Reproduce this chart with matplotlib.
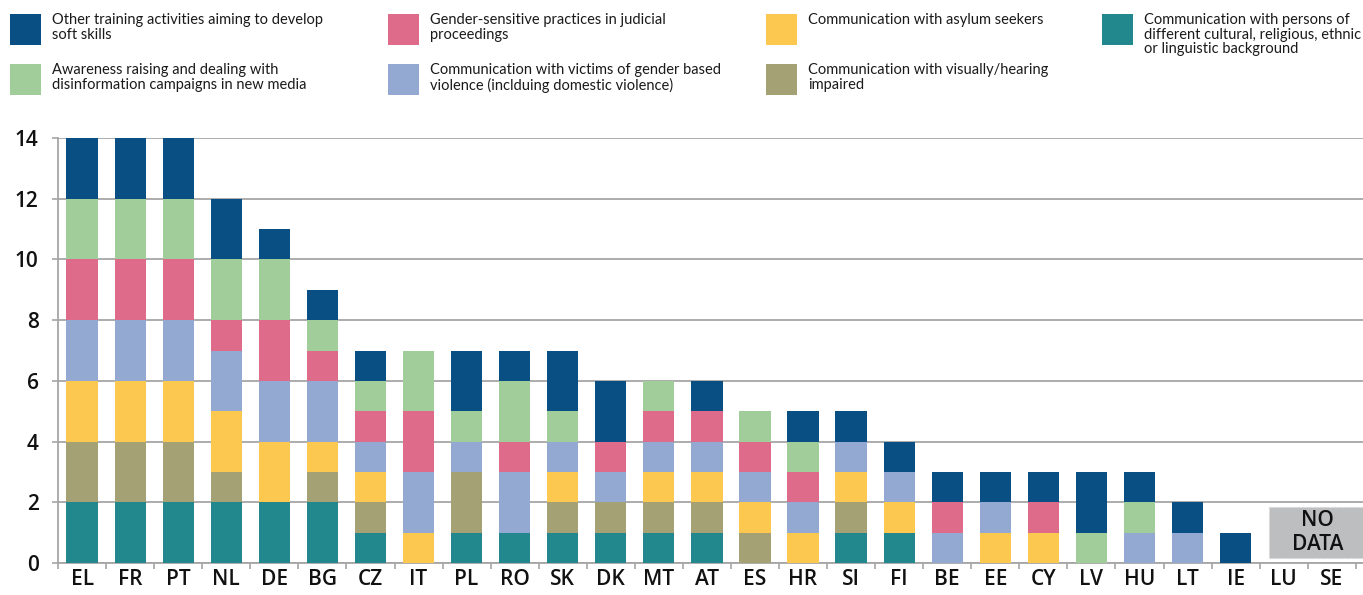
import matplotlib.pyplot as plt
from matplotlib.patches import Rectangle
import numpy as np

countries = ['EL', 'FR', 'PT', 'NL', 'DE', 'BG', 'CZ', 'IT', 'PL', 'RO', 'SK', 'DK', 'MT', 'AT',
             'ES', 'HR', 'SI', 'FI', 'BE', 'EE', 'CY', 'LV', 'HU', 'LT', 'IE', 'LU', 'SE']

# stacked bottom to top
cultural   = [2, 2, 2, 2, 2, 2, 1, 0, 1, 1, 1, 1, 1, 1, 0, 0, 1, 1, 0, 0, 0, 0, 0, 0, 0, 0, 0]
impaired   = [2, 2, 2, 1, 0, 1, 1, 0, 2, 0, 1, 1, 1, 1, 1, 0, 1, 0, 0, 0, 0, 0, 0, 0, 0, 0, 0]
asylum     = [2, 2, 2, 2, 2, 1, 1, 1, 0, 0, 1, 0, 1, 1, 1, 1, 1, 1, 0, 1, 1, 0, 0, 0, 0, 0, 0]
victims    = [2, 2, 2, 2, 2, 2, 1, 2, 1, 2, 1, 1, 1, 1, 1, 1, 1, 1, 1, 1, 0, 0, 1, 1, 0, 0, 0]
gender     = [2, 2, 2, 1, 2, 1, 1, 2, 0, 1, 0, 1, 1, 1, 1, 1, 0, 0, 1, 0, 1, 0, 0, 0, 0, 0, 0]
awareness  = [2, 2, 2, 2, 2, 1, 1, 2, 1, 2, 1, 0, 1, 0, 1, 1, 0, 0, 0, 0, 0, 1, 1, 0, 0, 0, 0]
soft       = [2, 2, 2, 2, 1, 1, 1, 0, 2, 1, 2, 2, 0, 1, 0, 1, 1, 1, 1, 1, 1, 2, 1, 1, 1, 0, 0]

series = [
    (cultural,  '#23888e', 'Communication with persons of\ndifferent cultural, religious, ethnic\nor linguistic background'),
    (impaired,  '#a4a175', 'Communication with visually/hearing\nimpaired'),
    (asylum,    '#fcc84f', 'Communication with asylum seekers'),
    (victims,   '#93a9d2', 'Communication with victims of gender based\nviolence (inclduing domestic violence)'),
    (gender,    '#df6b8a', 'Gender-sensitive practices in judicial\nproceedings'),
    (awareness, '#a1cd9a', 'Awareness raising and dealing with\ndisinformation campaigns in new media'),
    (soft,      '#0a4f84', 'Other training activities aiming to develop\nsoft skills'),
]

fig = plt.figure(figsize=(13.63, 5.95), dpi=100)
ax = fig.add_axes([0.0426, 0.0538, 0.9574, 0.7142])

x = np.arange(len(countries))
bottom = np.zeros(len(countries))
for vals, col, lab in series:
    ax.bar(x, vals, 0.65, bottom=bottom, color=col, zorder=3, clip_on=False)
    bottom += np.array(vals)

grid_col = '#a6a6a6'
ax.set_xlim(-0.5, 26.65)
ax.set_ylim(0, 14)
ax.set_yticks(range(0, 15, 2))
ax.yaxis.grid(True, color=grid_col, linewidth=1.3, zorder=0)
ax.set_axisbelow(True)
for s in ['top', 'right']:
    ax.spines[s].set_visible(False)
for s in ['left', 'bottom']:
    ax.spines[s].set_color(grid_col)
    ax.spines[s].set_linewidth(1.3)

tick_font = dict(family=['Open Sans', 'DejaVu Sans'], weight='semibold', size=15)
ax.set_xticks(x)
ax.set_xticklabels(countries, **tick_font)
ax.set_yticklabels([str(v) for v in range(0, 15, 2)], **tick_font)
ax.tick_params(axis='x', length=0, pad=4, colors='#111111')
ax.set_xticks(np.arange(-0.5, 26.6, 1), minor=True)
ax.tick_params(axis='x', which='minor', length=4, color=grid_col, width=1.2)
ax.tick_params(axis='y', length=4, width=1.2, color=grid_col, pad=10, labelcolor='#111111')

# grey "no data" box over LU and SE
ax.add_patch(Rectangle((24.7, 0.16), 2.0, 1.68, facecolor='#bdbebf', edgecolor='#d9d9d9',
                       linestyle='--', linewidth=0.8, zorder=4, clip_on=False))
ax.text(25.7, 1.0, 'NO\nDATA', ha='center', va='center', zorder=5, linespacing=1.2,
        family=['Open Sans', 'DejaVu Sans'], weight='semibold', size=15, color='#111111')

# legend laid out in four columns, two rows
legend_font = ['Liberation Sans Narrow', 'Lato', 'DejaVu Sans']
order = [6, 4, 2, 0, 5, 3, 1]
col_x = [10, 388, 766, 1102]
row_y = [14, 64]
W, H = 1363, 595
for k, idx in enumerate(order):
    vals, col, lab = series[idx]
    cx = col_x[k % 4]
    ry = row_y[k // 4]
    fig.patches.append(Rectangle((cx / W, 1 - (ry + 31) / H), 31 / W, 31 / H,
                                 transform=fig.transFigure, facecolor=col, edgecolor='none'))
    fig.text((cx + 42) / W, 1 - (ry - 1) / H, lab, ha='left', va='top', fontsize=10.5,
             family=legend_font, linespacing=1.05, color='#1a1a1a')

fig.savefig('out.png', dpi=100)
